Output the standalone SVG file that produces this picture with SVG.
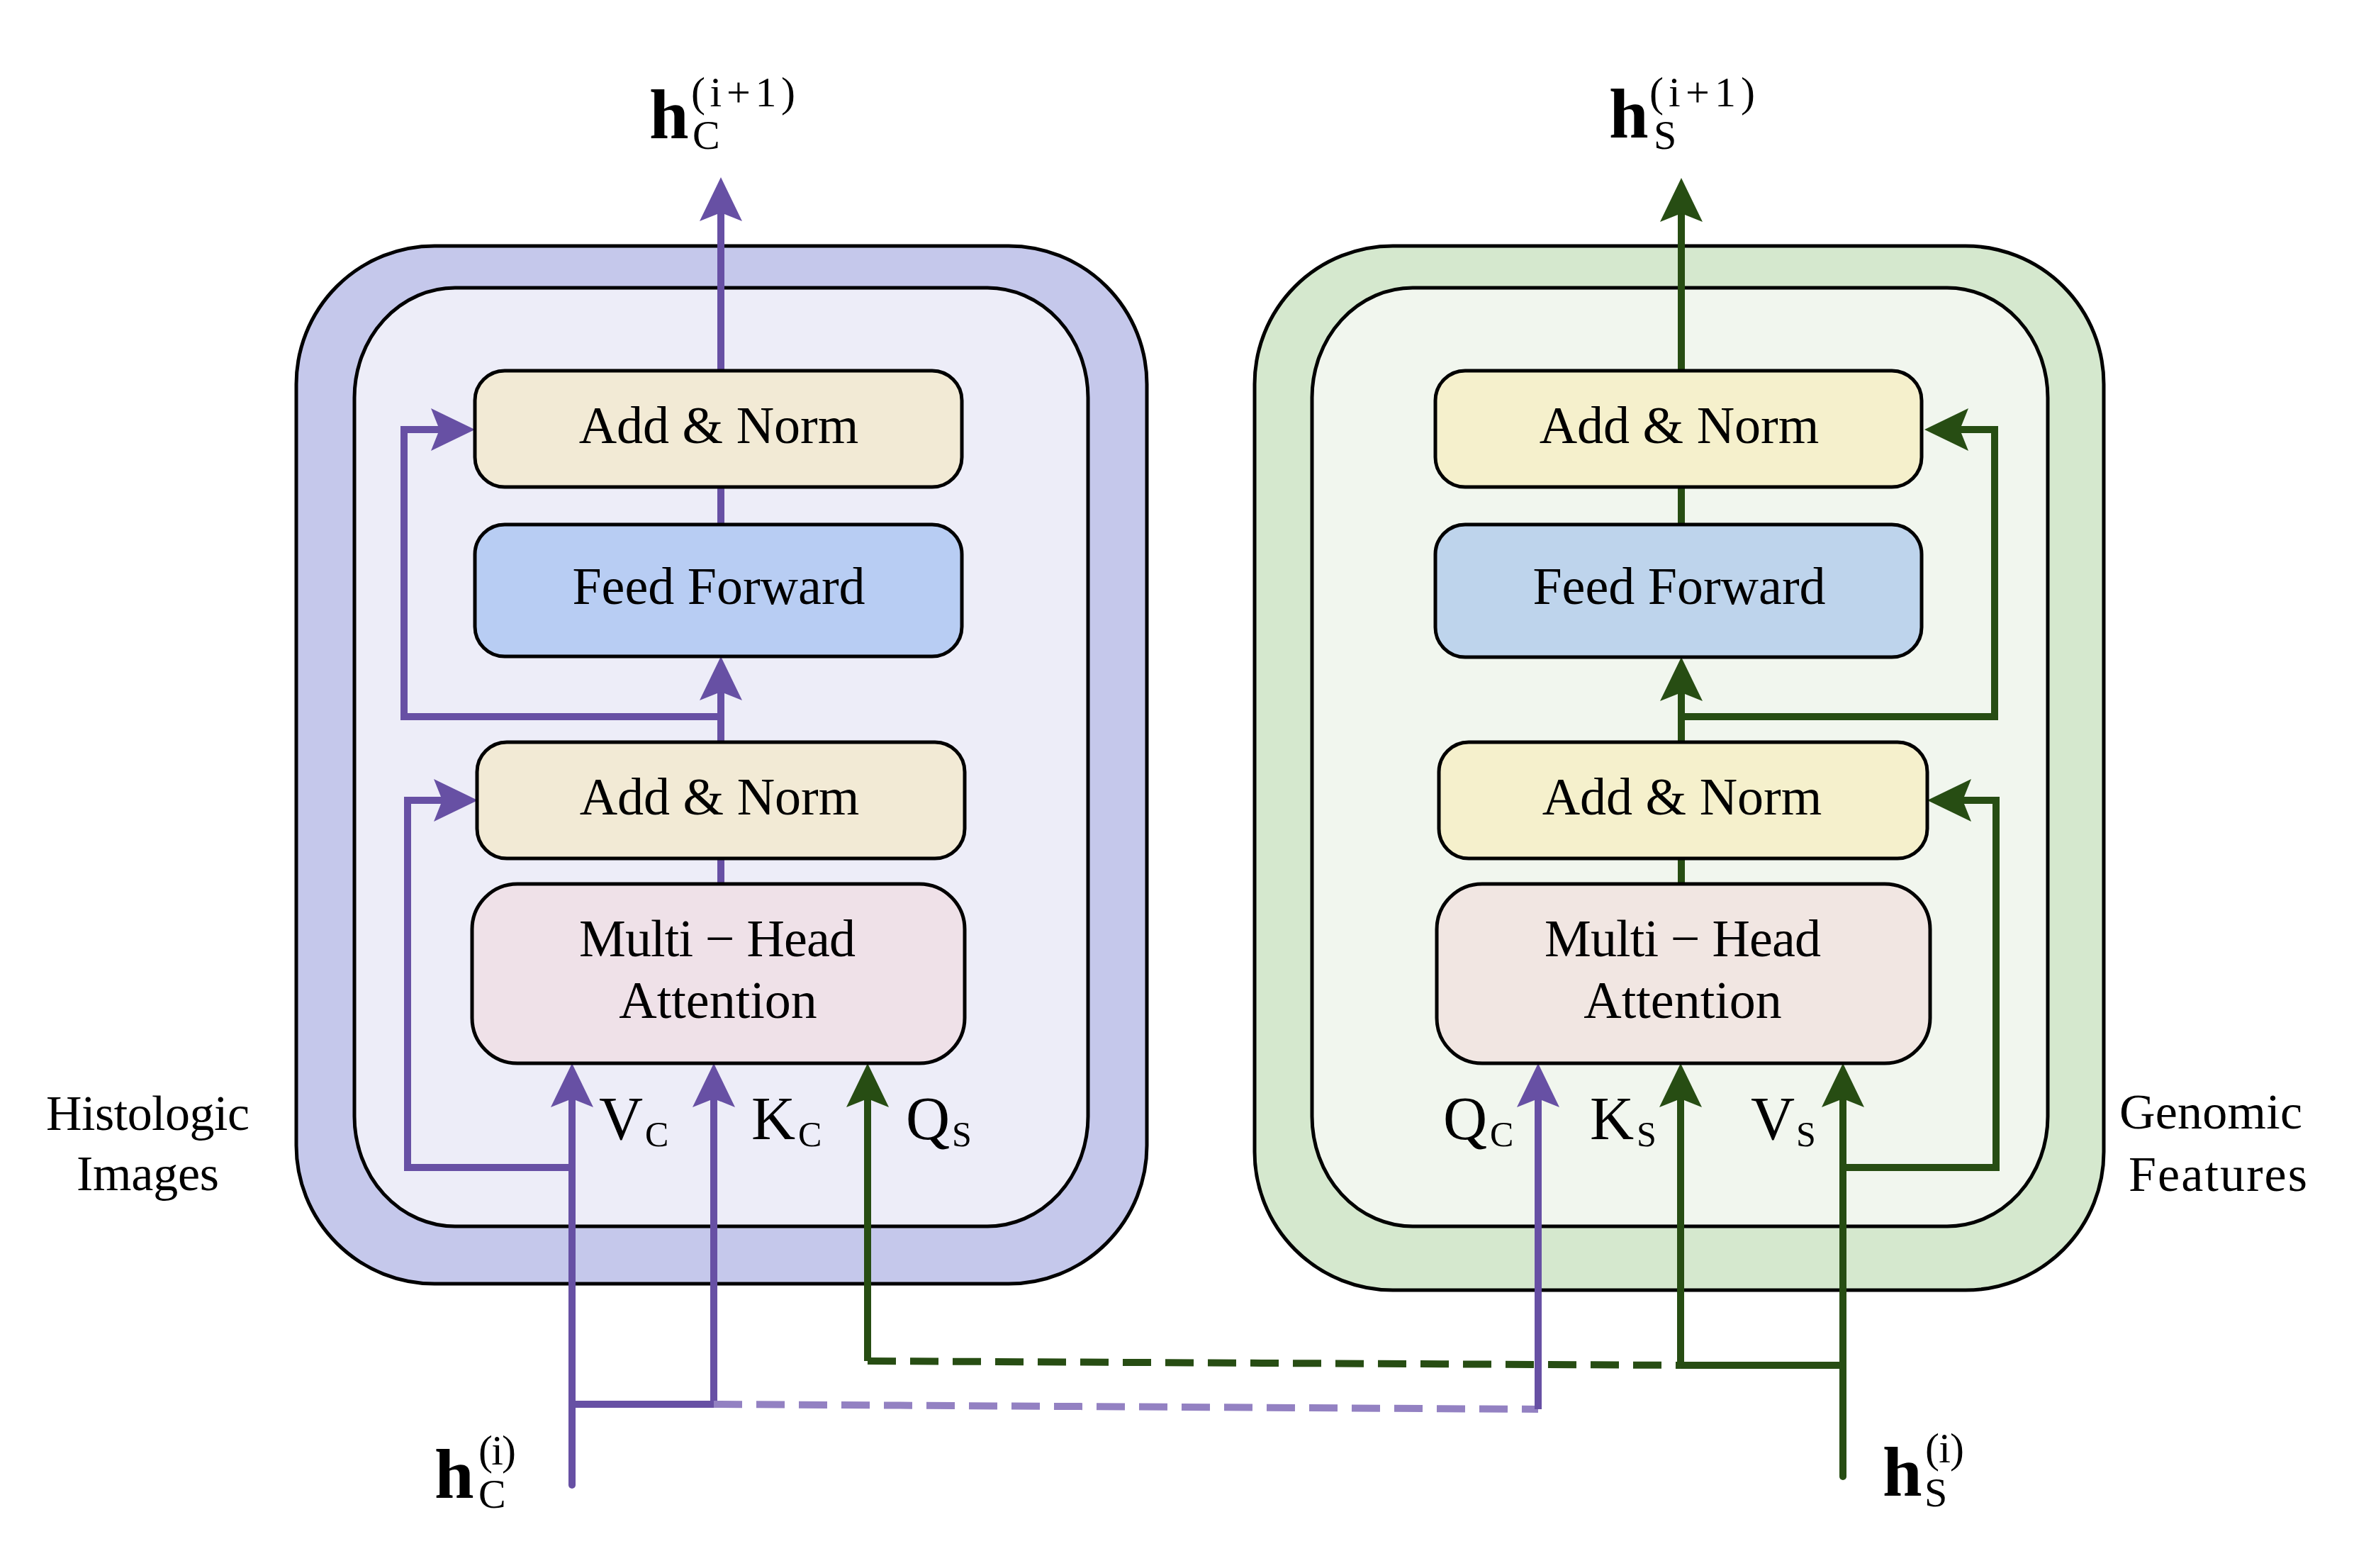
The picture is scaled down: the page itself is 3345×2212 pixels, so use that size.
<svg xmlns="http://www.w3.org/2000/svg" width="3345" height="2212" viewBox="0 0 3345 2212">
<style>
text{font-family:"Liberation Serif","Times New Roman",serif;fill:#000}
.box{stroke:#000;stroke-width:5}
.lbl{font-size:74px;text-anchor:middle}
.side{font-size:70px}
.m{font-size:86px}
.s{font-size:50px}
.h{font-size:100px;font-weight:bold}
.hs{font-size:58px}
.hp{font-size:60px}
.p{fill:none;stroke:#6750A4;stroke-width:10;stroke-linejoin:miter}
.g{fill:none;stroke:#274D13;stroke-width:10;stroke-linejoin:miter}
.pa{marker-end:url(#ap)}
.ga{marker-end:url(#ag)}
.pd{fill:none;stroke:#9381C2;stroke-width:10;stroke-dasharray:40 20}
.gd{fill:none;stroke:#274D13;stroke-width:10;stroke-dasharray:40 20}
</style>
<defs>
<marker id="ap" viewBox="-65 -32 70 64" refX="-48" refY="0" markerWidth="70" markerHeight="64" markerUnits="userSpaceOnUse" orient="auto">
<path d="M0,0 L-62,-30 L-50,0 L-62,30 Z" fill="#6750A4"/>
</marker>
<marker id="ag" viewBox="-65 -32 70 64" refX="-48" refY="0" markerWidth="70" markerHeight="64" markerUnits="userSpaceOnUse" orient="auto">
<path d="M0,0 L-62,-30 L-50,0 L-62,30 Z" fill="#274D13"/>
</marker>
</defs>
<rect width="3345" height="2212" fill="#fff"/>

<g id="left-block">
<rect class="box" x="418" y="347" width="1200" height="1464" rx="195" ry="195" fill="#C5C8EB"/>
<rect class="box" x="500" y="406" width="1035" height="1324" rx="142" ry="155" fill="#EDEDF8"/>
</g>
<g id="right-block">
<rect class="box" x="1770" y="347" width="1198" height="1473" rx="195" ry="195" fill="#D5E8CE"/>
<rect class="box" x="1851" y="406" width="1038" height="1324" rx="142" ry="155" fill="#F1F6EE"/>
</g>

<g id="connectors">
<path class="p pa" d="M1017,523 L1017,298"/>
<path class="p" d="M1017,687 L1017,740"/>
<path class="p pa" d="M1017,1047 L1017,974"/>
<path class="p pa" d="M1017,1011 L570,1011 L570,606 L622,606"/>
<path class="p" d="M1017,1211 L1017,1247"/>
<path class="p pa" d="M807,1647 L575,1647 L575,1129 L626,1129"/>
<path class="p pa" d="M807,2095 L807,1548" stroke-linecap="round"/>
<path class="p pa" d="M1007,1981 L1007,1548"/>
<path class="p" d="M807,1981 L1007,1981"/>
<path class="pd" d="M1007,1981 L2170,1988"/>
<path class="p pa" d="M2170,1988 L2170,1548"/>
<path class="g ga" d="M2372,523 L2372,299"/>
<path class="g" d="M2372,688 L2372,740"/>
<path class="g ga" d="M2372,1047 L2372,975"/>
<path class="g ga" d="M2372,1011 L2814,1011 L2814,606 L2763,606"/>
<path class="g" d="M2372,1211 L2372,1247"/>
<path class="g ga" d="M2600,1647 L2816,1647 L2816,1129 L2767,1129"/>
<path class="g ga" d="M2600,2083 L2600,1548" stroke-linecap="round"/>
<path class="g ga" d="M2371,1926 L2371,1548"/>
<path class="g" d="M2371,1926 L2600,1926"/>
<path class="gd" d="M1224,1920 L2371,1926"/>
<path class="g ga" d="M1224,1920 L1224,1548"/>
</g>

<g id="left-addnorm-top">
<rect class="box" x="670" y="523" width="687" height="164" rx="42" fill="#F2EAD5"/>
<text class="lbl" x="1014" y="625">Add &amp; Norm</text>
</g>
<g id="left-feedforward">
<rect class="box" x="670" y="740" width="687" height="186" rx="42" fill="#B8CDF3"/>
<text class="lbl" x="1014" y="852">Feed Forward</text>
</g>
<g id="left-addnorm-bottom">
<rect class="box" x="673" y="1047" width="688" height="164" rx="42" fill="#F2EAD5"/>
<text class="lbl" x="1015" y="1149">Add &amp; Norm</text>
</g>
<g id="left-mha">
<rect class="box" x="666" y="1247" width="695" height="253" rx="64" fill="#EFE1E8"/>
<text class="lbl" x="1012" y="1349" textLength="390">Multi − Head</text>
<text class="lbl" x="1013" y="1436">Attention</text>
</g>

<g id="right-addnorm-top">
<rect class="box" x="2025" y="523" width="686" height="164" rx="42" fill="#F5F0CC"/>
<text class="lbl" x="2369" y="625">Add &amp; Norm</text>
</g>
<g id="right-feedforward">
<rect class="box" x="2025" y="740" width="686" height="187" rx="42" fill="#BED4EC"/>
<text class="lbl" x="2369" y="852">Feed Forward</text>
</g>
<g id="right-addnorm-bottom">
<rect class="box" x="2030" y="1047" width="689" height="164" rx="42" fill="#F5F0CC"/>
<text class="lbl" x="2373" y="1149">Add &amp; Norm</text>
</g>
<g id="right-mha">
<rect class="box" x="2027" y="1247" width="696" height="253" rx="64" fill="#F1E6E2"/>
<text class="lbl" x="2374" y="1349" textLength="390">Multi − Head</text>
<text class="lbl" x="2374" y="1436">Attention</text>
</g>

<g id="input-labels">
<text class="m" x="845" y="1607">V</text><text class="s" x="910" y="1617">C</text>
<text class="m" x="1060" y="1607">K</text><text class="s" x="1126" y="1617">C</text>
<text class="m" x="1278" y="1607">Q</text><text class="s" x="1343" y="1617">S</text>
<text class="m" x="2036" y="1607">Q</text><text class="s" x="2102" y="1617">C</text>
<text class="m" x="2243" y="1607">K</text><text class="s" x="2309" y="1617">S</text>
<text class="m" x="2470" y="1607">V</text><text class="s" x="2534" y="1617">S</text>
</g>

<g id="side-labels">
<text class="side" x="65" y="1594" textLength="287">Histologic</text>
<text class="side" x="108" y="1679" textLength="201">Images</text>
<text class="side" x="2990" y="1592" textLength="258">Genomic</text>
<text class="side" x="3003" y="1680" textLength="252">Features</text>
</g>

<g id="output-labels">
<text class="h" x="916" y="195">h</text>
<text class="hs" x="977" y="210">C</text>
<text class="hp" x="975" y="150" textLength="147">(i+1)</text>
<text class="h" x="2270" y="194">h</text>
<text class="hs" x="2333" y="210">S</text>
<text class="hp" x="2327" y="150" textLength="149">(i+1)</text>
</g>

<g id="input-h-labels">
<text class="h" x="613" y="2113">h</text>
<text class="hs" x="675" y="2127">C</text>
<text class="hp" x="675" y="2066" textLength="53">(i)</text>
<text class="h" x="2656" y="2110">h</text>
<text class="hs" x="2715" y="2125">S</text>
<text class="hp" x="2716" y="2063" textLength="55">(i)</text>
</g>
</svg>
